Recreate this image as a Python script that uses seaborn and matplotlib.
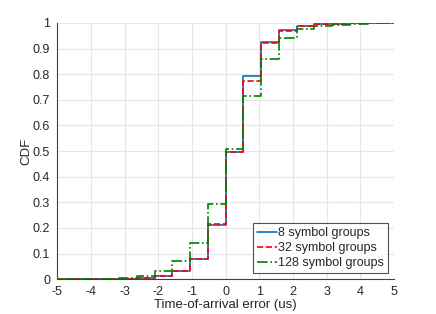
import numpy as np
import pandas as pd
import seaborn as sns
import matplotlib.pyplot as plt

# error in sample periods (1 sample = 10/19 us), and read-off CDF after each step
sample_offsets = list(range(-10, 11))
sample_period_us = 10 / 19

cdf_8 = [0, 0, 0, 0.0003, 0.001, 0.004, 0.011, 0.030, 0.078, 0.212, 0.497,
         0.791, 0.926, 0.973, 0.988, 0.994, 0.997, 0.999, 0.9995, 0.9998, 1.0]
cdf_32 = [0, 0, 0, 0.0003, 0.0015, 0.005, 0.014, 0.032, 0.080, 0.217, 0.495,
          0.775, 0.922, 0.969, 0.988, 0.994, 0.997, 0.999, 0.9995, 0.9998, 1.0]
cdf_128 = [0, 0, 0, 0.001, 0.005, 0.013, 0.030, 0.070, 0.142, 0.293, 0.508,
           0.716, 0.859, 0.940, 0.975, 0.988, 0.993, 0.996, 0.998, 0.999, 1.0]

labels = ['8 symbol groups', '32 symbol groups', '128 symbol groups']
colors = ['#0072BD', '#FF0000', '#008000']
styles = ['-', '--', '-.']

sns.set_style('white')
plt.rcParams['font.family'] = ['Liberation Sans', 'DejaVu Sans']
plt.rcParams['axes.unicode_minus'] = False

time_us = np.array(sample_offsets) * sample_period_us

fig = plt.figure(figsize=(4.36, 3.14), dpi=100)
ax = fig.add_axes([0.131, 0.111, 0.773, 0.816])

for cdf, lab, col, ls in zip([cdf_8, cdf_32, cdf_128], labels, colors, styles):
    w = np.diff(np.concatenate([[0], cdf]))
    df = pd.DataFrame({'t': time_us, 'w': w})
    sns.ecdfplot(data=df, x='t', weights='w', ax=ax, color=col, linestyle=ls,
                 linewidth=1.2, label=lab)

ax.set_xlim(-5, 5)
ax.set_ylim(0, 1)
ax.set_xticks(range(-5, 6))
ax.set_yticks(np.arange(0, 1.01, 0.1))
ax.set_yticklabels(['0', '0.1', '0.2', '0.3', '0.4', '0.5', '0.6', '0.7', '0.8', '0.9', '1'])
ax.grid(True, color='#e6e6e6', linewidth=0.8)
ax.set_axisbelow(True)
for s in ['top', 'right']:
    ax.spines[s].set_visible(False)
for s in ['left', 'bottom']:
    ax.spines[s].set_color('#404040')
    ax.spines[s].set_linewidth(0.8)
ax.tick_params(direction='out', length=3, width=0.8, color='#404040',
               labelsize=9, labelcolor='#262626', pad=2)
ax.set_xlabel('Time-of-arrival error (us)', fontsize=9.5, color='#262626', labelpad=1)
ax.set_ylabel('CDF', fontsize=9.5, color='#262626', labelpad=0)

leg = ax.legend(loc='lower right', fontsize=9, frameon=True, fancybox=False,
                handlelength=1.6, handletextpad=0.1, borderpad=0.3,
                labelspacing=0.25, borderaxespad=0.5)
leg.get_frame().set_edgecolor('#262626')
leg.get_frame().set_linewidth(0.8)

fig.savefig('out.png', dpi=100)
